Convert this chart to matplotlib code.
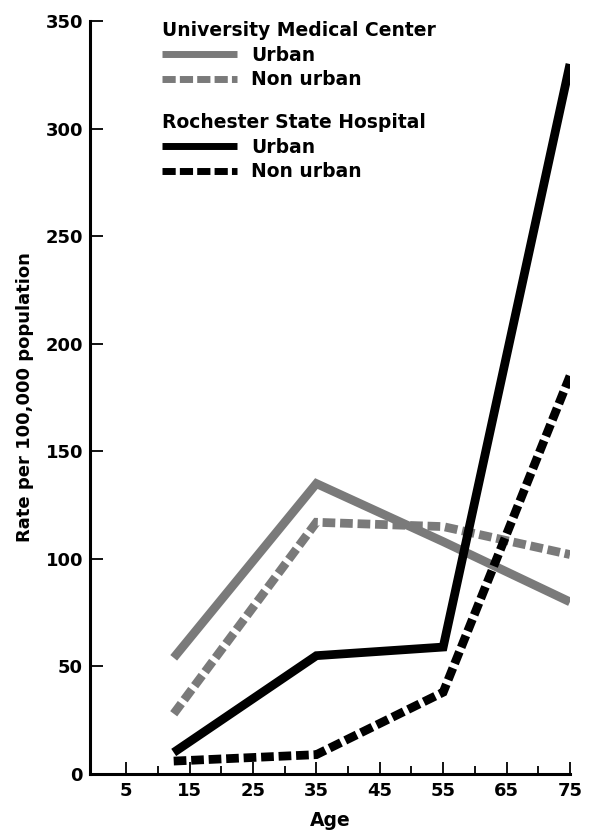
import matplotlib.pyplot as plt
from matplotlib.lines import Line2D

plt.rcParams['font.family'] = ['DejaVu Sans']
plt.rcParams['font.weight'] = 'bold'

# Rate per 100,000 population by age group
ages = [12.5, 35, 55, 75]
umc_urban = [54, 135, 108, 80]
umc_nonurban = [28, 117, 115, 102]
rsh_urban = [10, 55, 59, 330]
rsh_nonurban = [6, 9, 38, 185]

GRAY = '#7a7a7a'
BLACK = '#000000'
LW = 6.3
DASH = (0, (1.45, 0.55))

fig = plt.figure(figsize=(5.93, 8.31), dpi=100)
ax = fig.add_axes([0.1518, 0.0686, 0.8094, 0.9061])

ax.plot(ages, umc_urban, color=GRAY, lw=LW, solid_joinstyle='miter', solid_capstyle='butt')
ax.plot(ages, umc_nonurban, color=GRAY, lw=LW, linestyle=DASH, dash_joinstyle='miter')
ax.plot(ages, rsh_urban, color=BLACK, lw=LW, solid_joinstyle='miter', solid_capstyle='butt')
ax.plot(ages, rsh_nonurban, color=BLACK, lw=LW, linestyle=DASH, dash_joinstyle='miter')

ax.set_xlim(-0.7, 75)
ax.set_ylim(0, 350)

for side in ['top', 'right']:
    ax.spines[side].set_visible(False)
for side in ['left', 'bottom']:
    ax.spines[side].set_linewidth(2.2)

ax.set_xticks([5, 15, 25, 35, 45, 55, 65, 75])
ax.set_xticks(range(10, 75, 10), minor=True)
ax.set_yticks(range(0, 351, 50))
ax.tick_params(axis='x', which='major', direction='in', length=9, width=1.3, pad=6, labelsize=13)
ax.tick_params(axis='x', which='minor', direction='in', length=6, width=1.3)
ax.tick_params(axis='y', which='major', direction='in', length=9, width=1.3, pad=5, labelsize=13)

ax.set_xlabel('Age', fontsize=13.5, fontweight='bold', labelpad=8)
ax.set_ylabel('Rate per 100,000 population', fontsize=13, fontweight='bold', labelpad=8)

# two stacked legends, one per hospital
umc_handles = [Line2D([], [], color=GRAY, lw=5, solid_capstyle='butt'),
               Line2D([], [], color=GRAY, lw=5, linestyle=(0, (1.9, 0.6)))]
rsh_handles = [Line2D([], [], color=BLACK, lw=5, solid_capstyle='butt'),
               Line2D([], [], color=BLACK, lw=5, linestyle=(0, (1.9, 0.6)))]
leg_kw = dict(loc='upper left', frameon=False, fontsize=13.5, title_fontsize=13.5,
              handlelength=4.0, handletextpad=0.75, labelspacing=0.3,
              borderpad=0, borderaxespad=0, alignment='left')

leg1 = ax.legend(umc_handles, ['Urban', 'Non urban'], title='University Medical Center',
                 bbox_to_anchor=(0.15, 1.0), **leg_kw)
ax.add_artist(leg1)
leg2 = ax.legend(rsh_handles, ['Urban', 'Non urban'], title='Rochester State Hospital',
                 bbox_to_anchor=(0.15, 0.878), **leg_kw)
for leg in (leg1, leg2):
    leg.get_title().set_fontweight('bold')

fig.savefig('out.png', dpi=100)
